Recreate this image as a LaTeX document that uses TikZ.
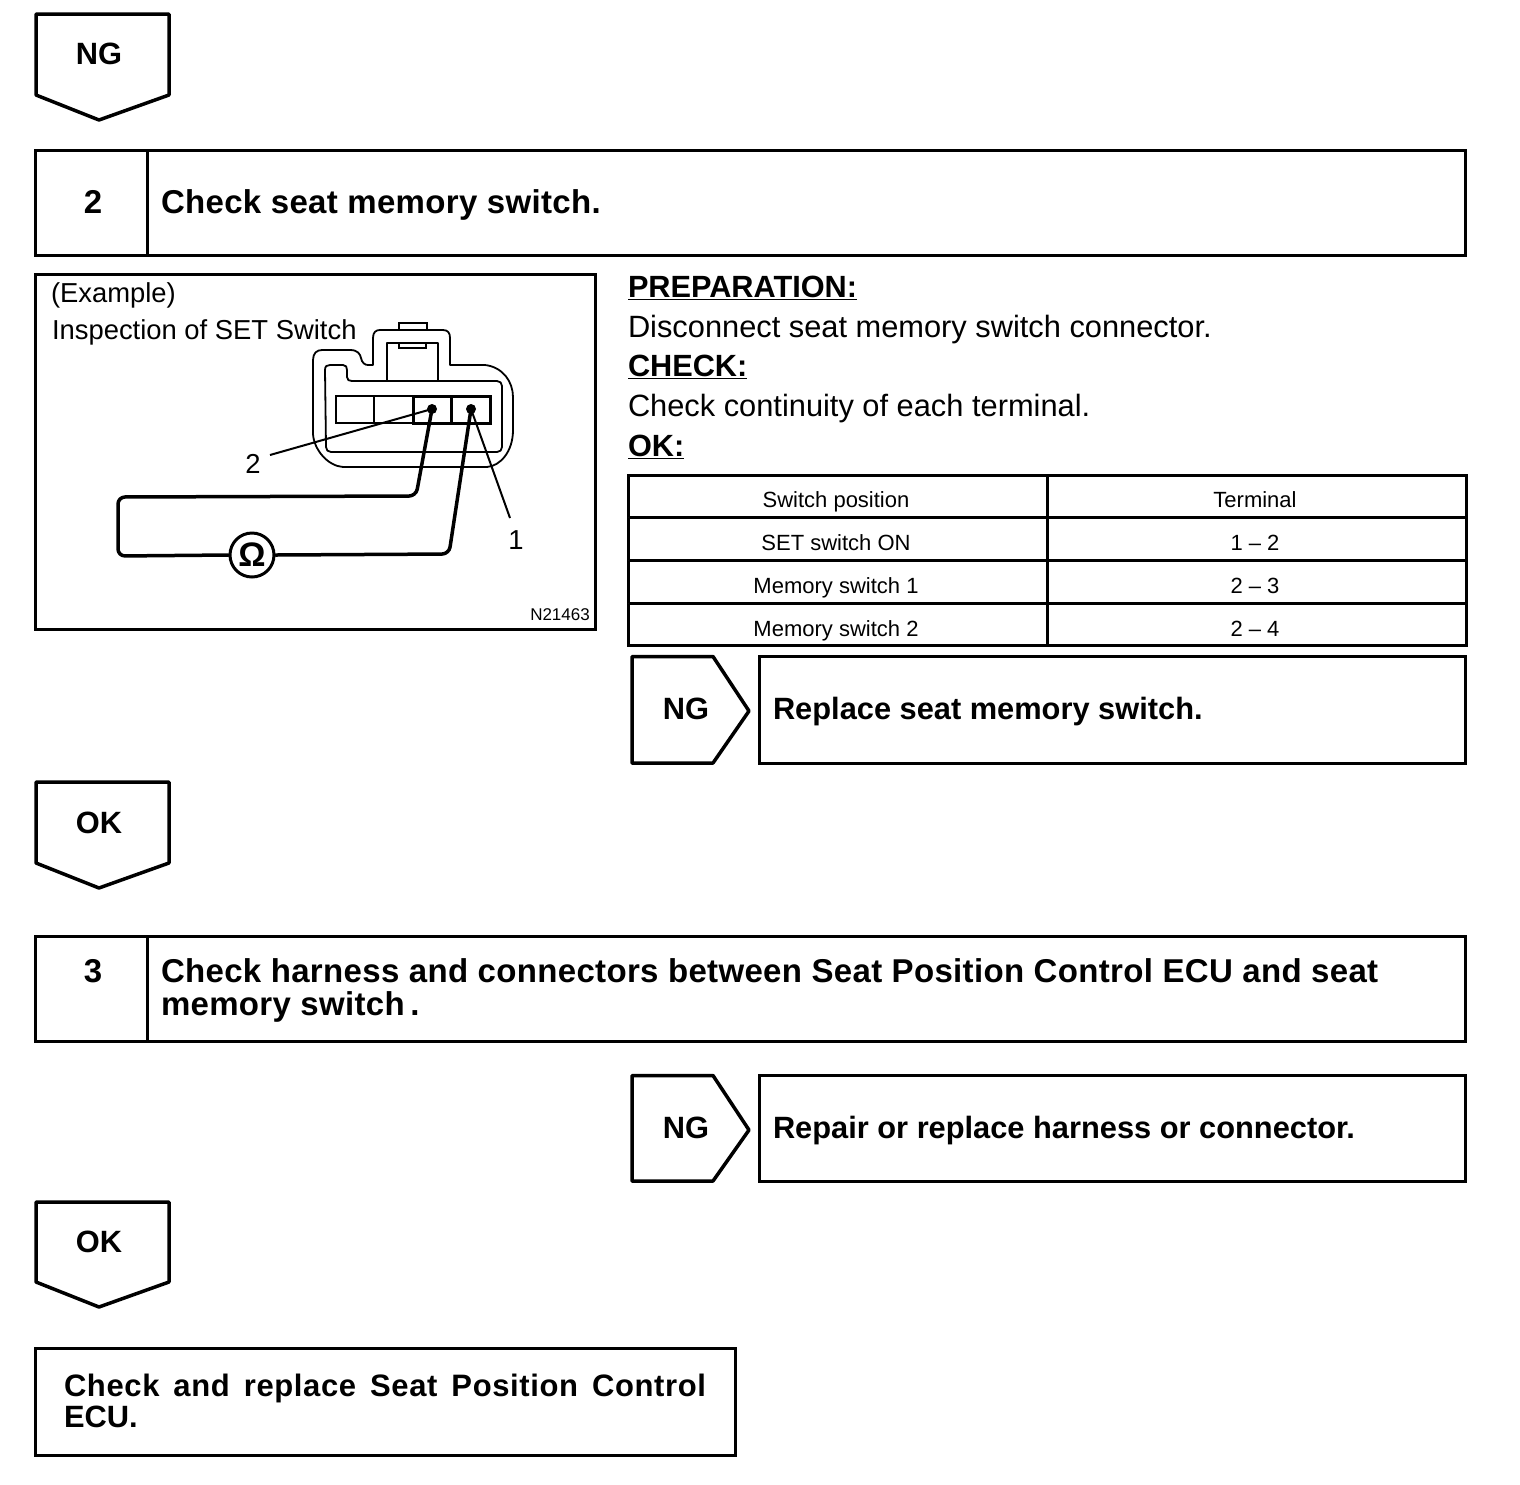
\documentclass[tikz,border=0pt]{standalone}
\usepackage{fontspec}
\setmainfont{Liberation Sans}
\newfontfamily\bfwide[LetterSpace=1.0]{Liberation Sans Bold}
\newfontfamily\bfmid{Liberation Sans Bold}
\newfontfamily\bfwider[LetterSpace=2.0]{Liberation Sans Bold}
\tikzset{
  box/.style={draw=black,line width=3pt,line join=miter,fill=white},
  penta/.style={draw=black,line width=3.5pt,line join=round,fill=white},
  thin/.style={draw=black,line width=1.8pt,line join=round},
  wire/.style={draw=black,line width=3.5pt,line join=round,line cap=round},
  leader/.style={draw=black,line width=2pt},
  txt/.style={inner sep=0pt,outer sep=0pt,anchor=base west,text=black},
  ctr/.style={inner sep=0pt,outer sep=0pt,anchor=base,text=black},
  big/.style={font=\bfwide\fontsize{33}{33}\selectfont},
  mid/.style={font=\bfmid\fontsize{30.8}{30.8}\selectfont},
  body/.style={font=\fontsize{30.8}{30.8}\selectfont},
  hd/.style={font=\bfseries\fontsize{30.7}{30.7}\selectfont},
  small/.style={font=\fontsize{22}{22}\selectfont},
  lab/.style={font=\fontsize{27.4}{27.4}\selectfont},
}
\begin{document}
\begin{tikzpicture}[x=1pt,y=-1pt]
\useasboundingbox (0,0) rectangle (1520,1484);
\fill[white] (0,0) rectangle (1520,1484);
% down pentagons
\draw[penta] (36,14)--(169,14)--(169,95)--(99,120)--(36,95)--cycle;
\node[ctr,mid] (ng1) at (99,64) {NG};
\draw[penta] (36,782)--(169,782)--(169,863)--(99,888)--(36,863)--cycle;
\node[ctr,mid] (ok1) at (99,833) {OK};
\draw[penta] (36,1202)--(169,1202)--(169,1282)--(99,1307)--(36,1282)--cycle;
\node[ctr,mid] (ok2) at (99,1252) {OK};
% step 2
\draw[box] (35.5,150)rectangle(1465.5,255);
\draw[box] (147.5,150)--(147.5,255);
\node[ctr,big] (n2) at (93,213) {2};
\node[txt,big] (t2) at (161,213) {Check seat memory switch.};
% figure panel
\draw[box] (35.5,274.5)rectangle(595.5,629);
\node[txt,lab] (ex) at (51,302) {(Example)};
\node[txt,lab] (ins) at (52,339) {Inspection of SET Switch};
% connector outline
\draw[thin] (373,365) -- (373,338) .. controls (373,332) and (376,330) .. (380,330) -- (443,330)
  .. controls (448,330) and (450,333) .. (450,338) -- (450,365) -- (485,365)
  .. controls (503,367) and (513,382) .. (513,397) -- (513,430)
  .. controls (513,452) and (500,466) .. (487,467) -- (343,467)
  .. controls (328,466) and (314,450) .. (313,434) -- (313,360)
  .. controls (313,353) and (317,350) .. (322,350) -- (350,350)
  .. controls (358,350) and (360,354) .. (361,358) .. controls (362,363) and (365,365) .. (368,365) -- cycle;
\draw[thin] (325,370) .. controls (325,366) and (327,365) .. (330,365) -- (343,365)
  .. controls (346,365) and (347,367) .. (347,370) -- (347,377) .. controls (347,380) and (349,381) .. (352,381)
  -- (497,381) .. controls (500,381) and (502,383) .. (502,386) -- (502,447)
  .. controls (502,450) and (500,452) .. (497,452) -- (331,452) .. controls (328,452) and (326,450) .. (326,447) -- cycle;
\draw[thin] (387,381)--(387,343)--(438,343)--(438,381);
\draw[line width=2pt] (399,329)--(399,323)--(427,323)--(427,329);
\draw[line width=2pt] (399,343)--(399,348)--(426,348)--(426,343);
\draw[line width=1.5pt] (336,396)rectangle(413,423);
\draw[line width=1.5pt] (374,396)--(374,423);
\draw[box,fill=none] (413,396)rectangle(451.5,423);
\draw[box,fill=none] (451.5,396)rectangle(490,423);
\fill (432,409) circle (5) coordinate (tb);
\fill (471,409) circle (5) coordinate (ta);
% meter and wires
\node[circle,draw=black,line width=3pt,minimum size=44pt,inner sep=0pt,font=\bfseries\fontsize{34}{34}\selectfont] (ohm) at (252,555) {Ω};
\coordinate (c1) at (416,496); \coordinate (c2) at (118,497); \coordinate (c3) at (118,556);
\coordinate (c4) at (449,554);
\draw[wire,rounded corners=7pt] (tb)--(c1)--(c2)--(c3)--(ohm.west);
\draw[wire,rounded corners=7pt] (ta)--(c4)--(ohm.east);
\node[ctr,lab] (l2) at (253,473) {2};
\node[ctr,lab] (l1) at (516,549) {1};
\draw[leader] (tb)--(270,455);
\draw[leader] (ta)--(510,518);
\node[anchor=base east,inner sep=0pt,font=\fontsize{17}{17}\selectfont] (code) at (590,620) {N21463};
% preparation text
\node[txt,hd] (p1) at (628,297) {\underline{PREPARATION:}};
\node[txt,body] (p2) at (628,337) {Disconnect seat memory switch connector.};
\node[txt,hd] (p3) at (628,376) {\underline{CHECK:}};
\node[txt,body] (p4) at (628,416) {Check continuity of each terminal.};
\node[txt,hd] (p5) at (628,456) {\underline{OK:}};
% table
\draw[box] (628.5,475)rectangle(1466,645.5);
\draw[box] (1047.5,475)--(1047.5,645.5);
\foreach \yy in {517.5,560.5,603.5} \draw[box] (628.5,\yy)--(1466,\yy);
\node[ctr,small] (h1) at (836,507) {Switch position};
\node[ctr,small] (h2) at (1255,507) {Terminal};
\node[ctr,small] (a1) at (836,550) {SET switch ON};
\node[ctr,small] (a2) at (1255,550) {1 -- 2};
\node[ctr,small] (b1) at (836,593) {Memory switch 1};
\node[ctr,small] (b2) at (1255,593) {2 -- 3};
\node[ctr,small] (c1t) at (836,636) {Memory switch 2};
\node[ctr,small] (c2t) at (1255,636) {2 -- 4};
% NG 1
\draw[penta] (632,656.5)--(713,656.5)--(749,711)--(713,763)--(632,763)--cycle;
\node[ctr,mid] (ng2) at (686,719) {NG};
\draw[box] (759,656.5)rectangle(1465.5,763);
\node[txt,mid] (r1) at (773,719) {Replace seat memory switch.};
% step 3
\draw[box] (35.5,936)rectangle(1465.5,1041);
\draw[box] (147.5,936)--(147.5,1041);
\node[ctr,big] (n3) at (93,982) {3};
\node[txt,big] (t3a) at (161,982) {Check harness and connectors between Seat Position Control ECU and seat};
\node[txt,big] (t3b) at (161,1015) {memory switch\,.};
% NG 2
\draw[penta] (632,1075.5)--(713,1075.5)--(749,1130)--(713,1181)--(632,1181)--cycle;
\node[ctr,mid] (ng3) at (686,1138) {NG};
\draw[box] (759,1075.5)rectangle(1465.5,1181);
\node[txt,mid] (r2) at (773,1138) {Repair or replace harness or connector.};
% final
\draw[box] (35.5,1348)rectangle(735.5,1455);
\node[txt,font=\bfwider\fontsize{31}{31}\selectfont] (f1) at (64,1396) {\spaceskip=14pt\relax Check and replace Seat Position Control};
\node[txt,mid] (f2) at (64,1427) {ECU.};
\end{tikzpicture}
\end{document}
